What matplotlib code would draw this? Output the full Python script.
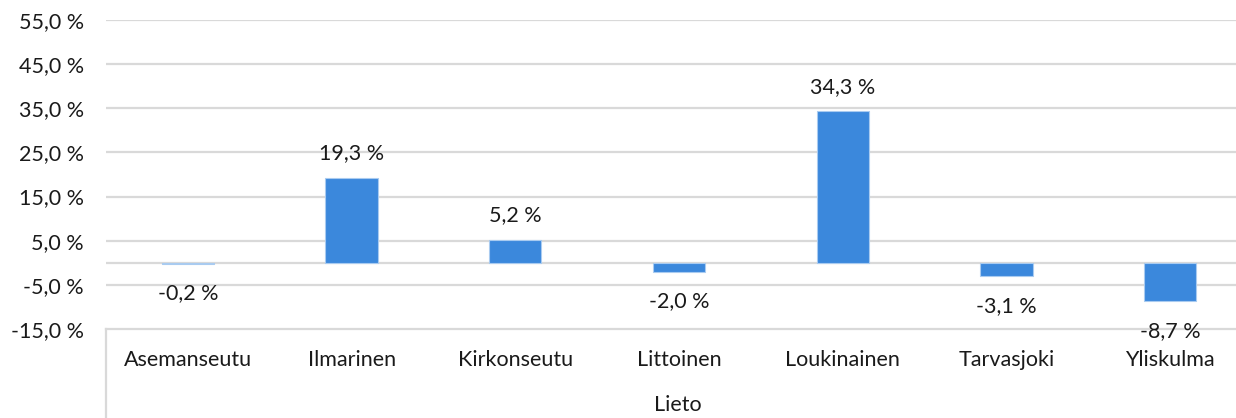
import matplotlib
matplotlib.use("Agg")
import matplotlib.pyplot as plt
from matplotlib.lines import Line2D
import numpy as np

# data
areas = ["Asemanseutu", "Ilmarinen", "Kirkonseutu", "Littoinen",
         "Loukinainen", "Tarvasjoki", "Yliskulma"]
change_pct = [-0.2, 19.3, 5.2, -2.0, 34.3, -3.1, -8.7]
group_label = "Lieto"
y_ticks = [-15, -5, 5, 15, 25, 35, 45, 55]

plt.rcParams["font.family"] = ["Lato", "DejaVu Sans"]
plt.rcParams["font.size"] = 15.5
text_col = "#1a1a1a"
grid_col = "#d9d9d9"
bar_col = "#3b88dc"

W, H = 1236, 418
left_px, right_px, top_px, bot_px = 106, 1252, 20, 329

fig = plt.figure(figsize=(W / 100, H / 100), dpi=100)
ax = fig.add_axes([left_px / W, 1 - bot_px / H, (right_px - left_px) / W, (bot_px - top_px) / H])

x = np.arange(len(areas))
ax.bar(x, change_pct, width=0.32, color=bar_col, edgecolor="#a9cbf0",
       linewidth=0.8, zorder=3)

ax.set_xlim(-0.5, len(areas) - 0.5)
ax.set_ylim(-15, 55)
ax.set_yticks(y_ticks)
ax.set_yticklabels([f"{v:.1f} %".replace(".", ",") for v in y_ticks], color=text_col)
ax.tick_params(axis="y", length=0, pad=16)
ax.set_xticks([])

# gridlines + zero line
for v in y_ticks[1:] + [0]:
    ax.axhline(v, color=grid_col, linewidth=1.6, zorder=1)
for s in ["top", "right", "left"]:
    ax.spines[s].set_visible(False)
ax.spines["bottom"].set_color(grid_col)
ax.spines["bottom"].set_linewidth(1.6)

# data labels
for xi, v in zip(x, change_pct):
    txt = f"{v:.1f} %".replace(".", ",")
    off = 17.5 if v >= 0 else -21.5
    ax.annotate(txt, (xi, v), xytext=(0, off), textcoords="offset points",
                ha="center", va="center", color=text_col, zorder=4)

# category labels (multi-level axis)
for xi, name in zip(x, areas):
    ax.annotate(name, (xi, -15), xytext=(0, -22.5), textcoords="offset points",
                ha="center", va="center", color=text_col, annotation_clip=False)
fig.text(678 / W, 1 - 405 / H, group_label,
         ha="center", va="center", color=text_col)

# left vertical separator of the category axis
fig.add_artist(Line2D([left_px / W, left_px / W], [0, 1 - bot_px / H],
                      color=grid_col, linewidth=1.6))

fig.savefig("out.png", dpi=100)
